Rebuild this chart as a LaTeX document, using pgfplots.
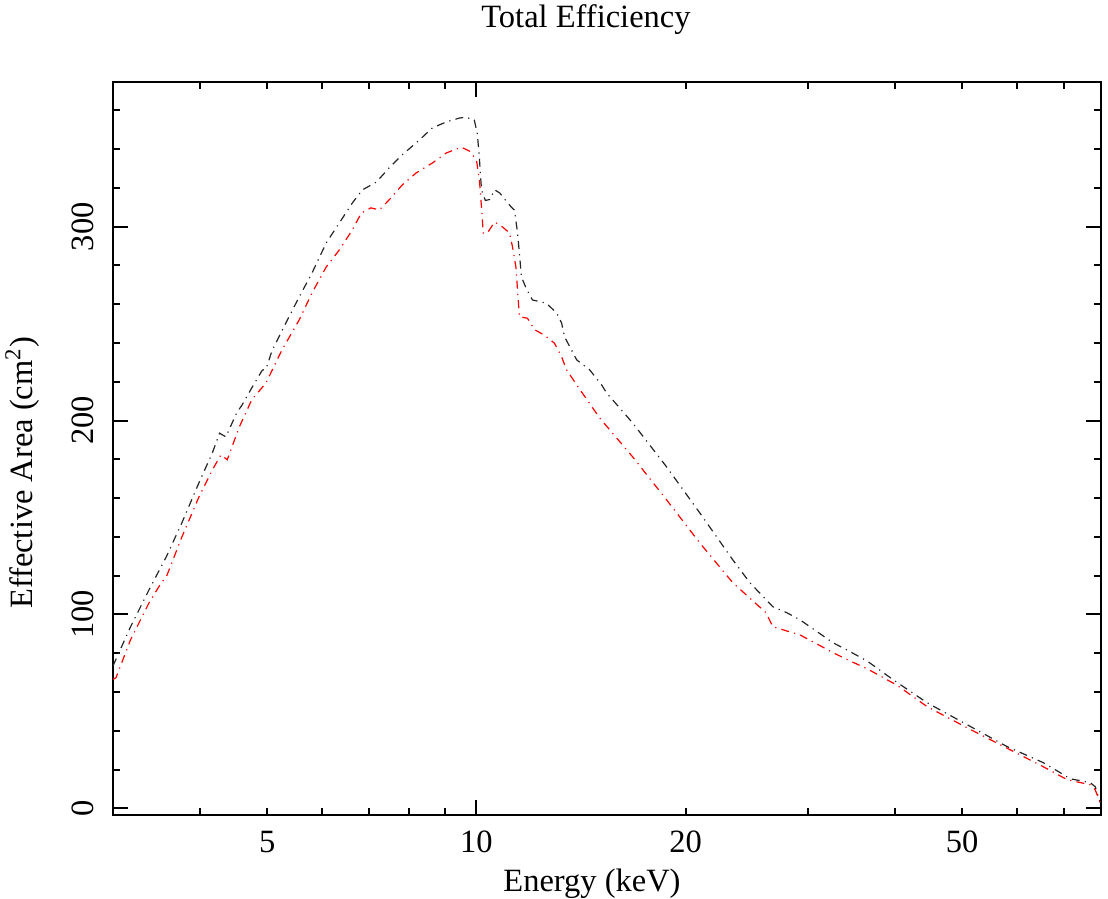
\documentclass[border=0pt]{standalone}
\usepackage{pgfplots}
\pgfplotsset{compat=1.18}
\usepackage{fontspec}
\setmainfont{Liberation Serif}
\newcommand{\fs}{\fontsize{16.25}{19.5}\selectfont}

\pgfplotstableread{
x y
3.00 73.5
3.18 93.7
3.38 112.7
3.58 129.8
3.77 147.3
3.99 168.0
4.17 183.4
4.27 193.5
4.36 191.6
4.52 204.0
4.60 208.0
4.75 216.8
4.92 226.0
4.98 226.5
5.08 236.0
5.32 250.4
5.56 263.8
5.80 276.1
6.08 291.6
6.35 301.9
6.63 312.2
6.85 318.9
7.18 323.0
7.49 330.3
7.82 337.0
8.28 344.7
8.64 350.9
9.05 354.0
9.45 356.0
9.67 356.5
9.80 355.5
9.93 355.0
10.03 348.0
10.10 335.0
10.17 319.0
10.30 313.5
10.45 314.0
10.62 319.0
10.80 317.4
11.05 313.0
11.23 310.0
11.34 308.6
11.46 297.0
11.61 274.0
11.80 268.0
12.04 262.2
12.61 260.5
13.04 255.5
13.26 250.4
13.39 243.2
13.94 231.3
14.55 226.2
15.14 218.4
15.39 214.3
16.78 198.8
18.78 176.1
20.96 152.4
23.38 128.2
24.74 116.4
26.70 104.0
27.97 100.9
29.20 97.3
32.60 85.4
34.50 80.8
36.50 76.0
39.80 66.3
44.50 54.5
50.80 43.2
58.00 31.9
65.40 23.6
69.20 18.4
71.50 15.3
76.40 13.3
77.70 11.2
79.00 3.0
}\blackdata

\pgfplotstableread{
x y
3.00 66.5
3.03 67.4
3.18 87.0
3.38 106.0
3.52 116.3
3.58 119.4
3.77 140.0
3.99 160.7
4.17 174.6
4.29 182.3
4.38 179.8
4.56 196.8
4.75 210.7
4.98 219.4
5.25 236.4
5.56 251.9
5.80 265.8
6.08 279.2
6.35 288.0
6.63 298.3
6.83 307.0
7.05 309.7
7.25 308.6
7.49 313.8
7.82 321.5
8.19 327.7
8.64 332.8
9.05 338.0
9.51 341.0
9.77 339.0
10.00 334.5
10.10 324.0
10.17 310.0
10.23 296.7
10.37 296.7
10.62 302.4
10.90 299.9
11.16 296.7
11.27 289.6
11.40 279.0
11.53 253.5
11.84 252.8
12.12 246.9
12.53 244.0
12.95 239.9
13.26 232.9
13.48 226.2
13.94 218.4
15.04 201.4
16.78 181.3
18.78 159.1
20.96 136.9
23.38 116.4
26.10 100.9
26.70 93.7
28.20 91.1
29.20 89.5
32.60 80.3
34.50 76.0
36.50 72.0
40.30 63.5
44.50 52.5
50.80 41.6
65.40 21.5
70.80 14.8
76.40 12.2
77.70 9.6
79.00 3.0
}\reddata

\begin{document}
\begin{tikzpicture}
\begin{axis}[
  scale only axis,
  width=494pt, height=366.5pt,
  xmode=log,
  xmin=3, xmax=79.2,
  ymin=-3.4, ymax=374.6,
  axis line style={line width=1pt},
  tick style={line width=1pt, black},
  tick align=inside,
  major tick length=7.3pt,
  minor tick length=3.65pt,
  xtick={10},
  xticklabels={10},
  minor xtick={4,5,6,7,8,9,20,30,40,50,60,70},
  extra x ticks={5,20,50},
  extra x tick labels={5,20,50},
  extra x tick style={major tick length=0pt},
  xticklabel style={font=\fs, anchor=base},
  xticklabel shift=18.5pt,
  ytick={0,100,200,300},
  yticklabels={0,100,200,300},
  minor ytick={20,40,60,80,120,140,160,180,220,240,260,280,320,340,360},
  yticklabel style={font=\fs, rotate=90, anchor=base},
  yticklabel shift=10pt,
  every axis title shift=0pt,
  title={Total Efficiency},
  title style={font=\fs, at={(axis description cs:0.4787,1.075)}, anchor=base, inner sep=0pt},
  xlabel={Energy (keV)},
  xlabel style={font=\fs, at={(axis description cs:0.4848,-0.105)}, anchor=base, inner sep=0pt},
  ylabel={Effective Area (cm\textsuperscript{2})},
  ylabel style={font=\fs, at={(axis description cs:-0.081,0.4666)}, rotate=0, anchor=base, inner sep=0pt},
]
\addplot[black!85, line width=0.6pt, dash pattern=on 4pt off 2.6pt on 0.6pt off 2.6pt] table[x=x,y=y] {\blackdata};
\addplot[red, line width=0.6pt, dash pattern=on 4pt off 2.6pt on 0.6pt off 2.6pt] table[x=x,y=y] {\reddata};
\end{axis}
\pgfresetboundingbox
\path[use as bounding box] ([xshift=-56.5pt,yshift=-42pt]current axis.south west) rectangle ([xshift=3.5pt,yshift=41pt]current axis.north east);
\end{tikzpicture}
\end{document}
